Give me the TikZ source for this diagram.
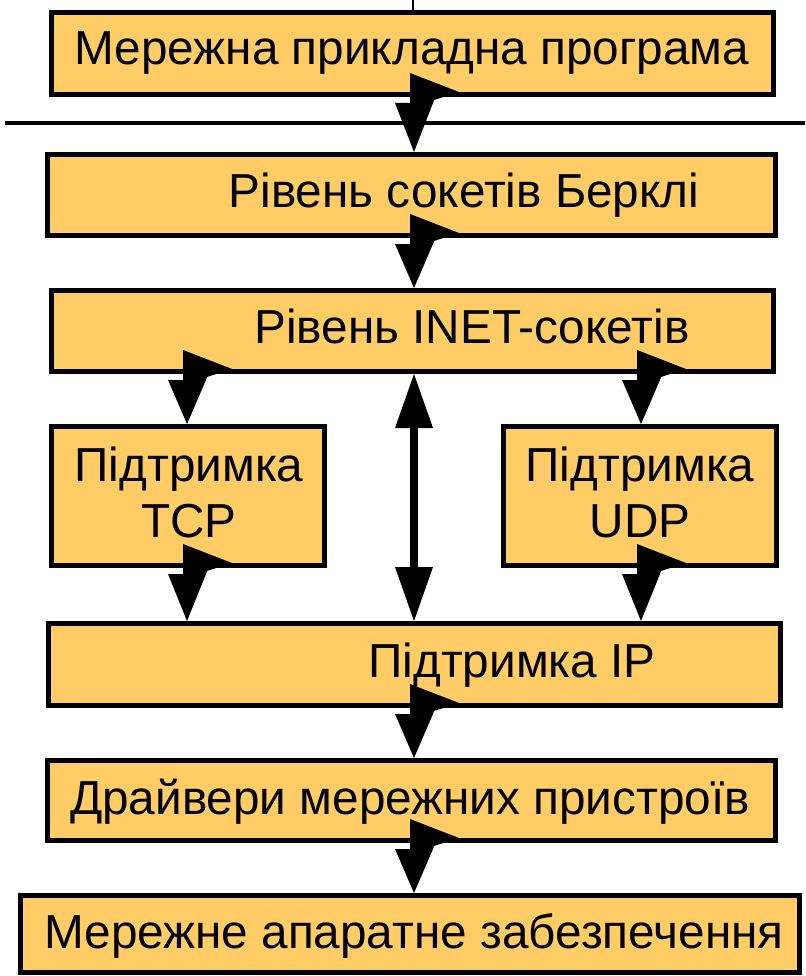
\documentclass[tikz,border=0pt]{standalone}
\usepackage{fontspec}
\setmainfont{Liberation Sans}
\usetikzlibrary{arrows.meta,calc}
\definecolor{boxfill}{RGB}{255,204,102}
\tikzset{
  box/.style={draw=black, line width=5pt, fill=boxfill, rectangle, inner sep=0pt},
  lbl/.style={font=\fontsize{47.7}{56}\selectfont, inner sep=0pt, anchor=base, align=center},
  rule/.style={draw=black, line width=4pt},
  dblarrow/.style={draw=black, line width=8pt,
    {Triangle[width=38pt,length=54pt,line width=0pt]}-{Triangle[width=38pt,length=54pt,line width=0pt]}},
}
\newcommand\flagconn[3]{%
  \fill[black] let \p1=(#1.south -| #3), \p2=(#2.north -| #3) in
    ({\x1-4pt},{\y1+24pt}) -- ({\x1+45pt},{\y1+5pt}) -- ({\x1+20pt},{\y1-3pt})
    -- ({\x1+19pt},{\y1-6pt}) -- (\x1,\y2) -- ({\x1-19pt},{\y1-6pt})
    -- ({\x1-4pt},{\y1-6pt}) -- cycle;}
\begin{document}
\begin{tikzpicture}[x=1pt,y=-1pt]
\useasboundingbox (0,0) rectangle (805,976);
% boxes
\node[box, minimum width=722pt, minimum height=82pt] (b1) at (412.5,53.5) {};
\node[box, minimum width=728pt, minimum height=81pt] (b2) at (411.5,195) {};
\node[box, minimum width=722pt, minimum height=81pt] (b3) at (412.5,331) {};
\node[box, minimum width=273pt, minimum height=139pt] (tcp) at (188,496) {};
\node[box, minimum width=273pt, minimum height=139pt] (udp) at (640,496) {};
\node[box, minimum width=732pt, minimum height=82pt] (ip) at (414.5,664.5) {};
\node[box, minimum width=728pt, minimum height=80pt] (drv) at (411.5,800.5) {};
\node[box, minimum width=779pt, minimum height=77pt] (hw) at (410,934) {};
% labels
\node[lbl] (t1) at (412,65) {Мережна прикладна програма};
\node[lbl] (t2) at (464,208) {Рівень сокетів Берклі};
\node[lbl] (t3) at (472,343) {Рівень INET-сокетів};
\node[lbl] (ttcp) at (189,537) {Підтримка\\TCP};
\node[lbl] (tudp) at (640,537) {Підтримка\\UDP};
\node[lbl] (tip) at (512,677) {Підтримка IP};
\node[lbl] (tdrv) at (410,814) {Драйвери мережних пристроїв};
\node[lbl] (thw) at (414,948) {Мережне апаратне забезпечення};
% rules
\coordinate (tk) at (413,0);
\draw[line width=2pt] (tk) -- (b1.north -| tk);
\coordinate (hlL) at (5,123);
\coordinate (hlR) at (805,123);
\draw[rule] (hlL) -- (hlR);
% connectors
\coordinate (xL) at (187,0);
\coordinate (xC) at (414,0);
\coordinate (xR) at (641,0);
\flagconn{b1}{b2}{xC}
\flagconn{b2}{b3}{xC}
\flagconn{b3}{tcp}{xL}
\flagconn{b3}{udp}{xR}
\flagconn{tcp}{ip}{xL}
\flagconn{udp}{ip}{xR}
\flagconn{ip}{drv}{xC}
\flagconn{drv}{hw}{xC}
\draw[dblarrow] (b3.south -| xC) -- (ip.north -| xC);
\end{tikzpicture}
\end{document}
